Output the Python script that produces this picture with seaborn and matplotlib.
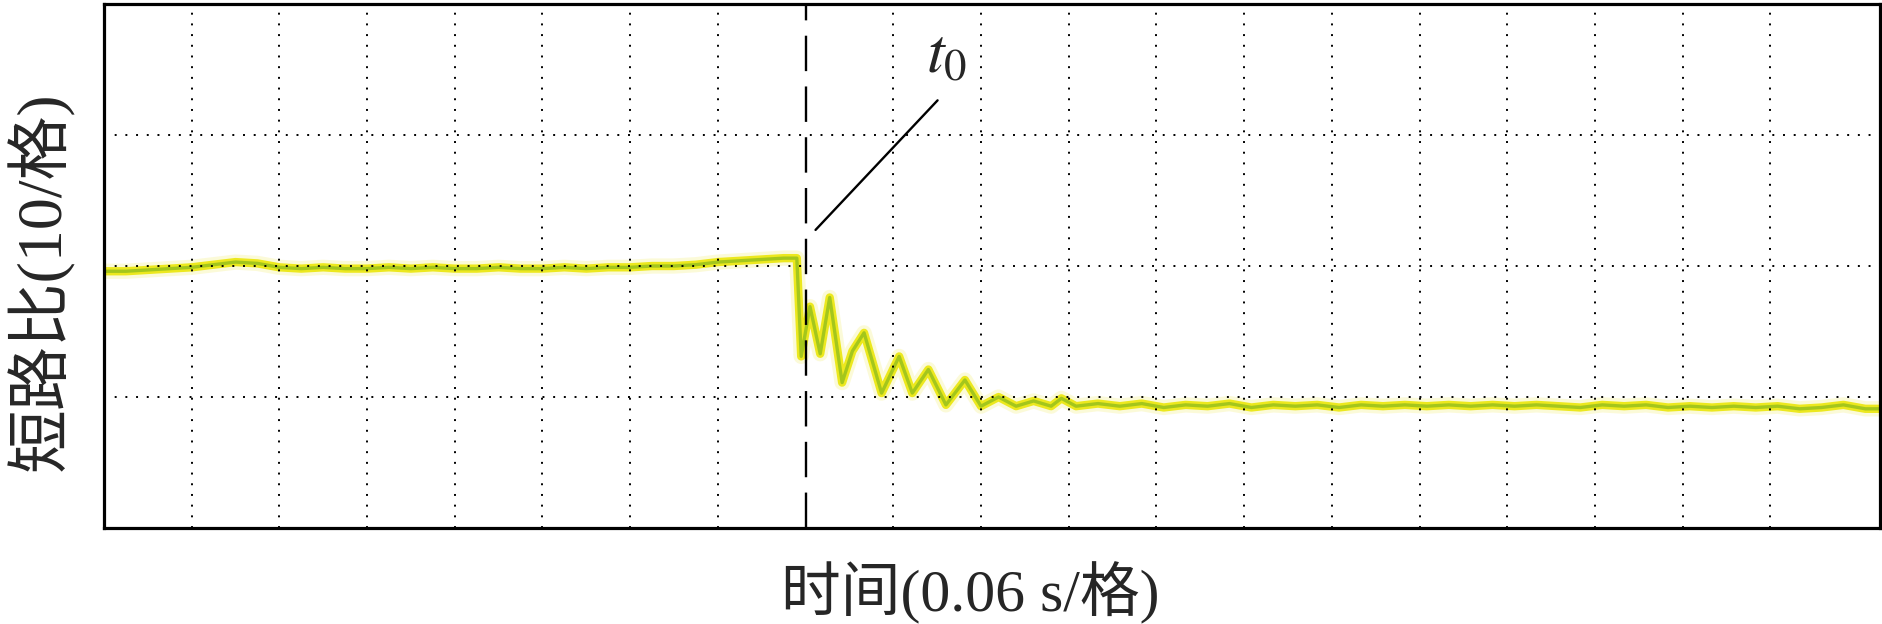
"""
Short-circuit ratio trace around a fault at t0 (oscilloscope style)
"""
import matplotlib
matplotlib.use('Agg')
import matplotlib.pyplot as plt
import seaborn as sns
import pandas as pd

# time in seconds (0.06 s per division)
time_s = [0.000, 0.015, 0.030, 0.045, 0.060, 0.075, 0.090, 0.105, 0.120, 0.135,
          0.150, 0.165, 0.180, 0.195, 0.210, 0.225, 0.240, 0.255, 0.270, 0.285,
          0.300, 0.315, 0.330, 0.345, 0.360, 0.375, 0.390, 0.405, 0.420, 0.435,
          0.450, 0.465, 0.474, 0.477, 0.483, 0.490, 0.4965, 0.505, 0.512, 0.520,
          0.532, 0.544, 0.553, 0.564, 0.576, 0.589, 0.600, 0.612, 0.624, 0.636,
          0.648, 0.655, 0.665, 0.680, 0.695, 0.710, 0.725, 0.740, 0.755, 0.770,
          0.785, 0.800, 0.815, 0.830, 0.845, 0.860, 0.875, 0.890, 0.905, 0.920,
          0.935, 0.950, 0.965, 0.980, 0.995, 1.010, 1.025, 1.040, 1.055, 1.070,
          1.085, 1.100, 1.115, 1.130, 1.145, 1.160, 1.175, 1.190, 1.205, 1.215]
scr = [19.6, 19.6, 19.7, 19.8, 19.9, 20.1, 20.3, 20.2, 19.9, 19.8,
       19.9, 19.8, 19.8, 19.9, 19.8, 19.9, 19.8, 19.8, 19.9, 19.8,
       19.8, 19.9, 19.8, 19.9, 19.9, 20.0, 20.0, 20.1, 20.3, 20.4,
       20.5, 20.6, 20.6, 13.1, 16.9, 13.3, 17.6, 11.1, 13.5, 14.9,
       10.3, 13.1, 10.3, 12.1, 9.4, 11.3, 9.3, 10.0, 9.3, 9.7,
       9.3, 9.9, 9.3, 9.5, 9.3, 9.5, 9.2, 9.4, 9.3, 9.5,
       9.2, 9.4, 9.3, 9.4, 9.2, 9.4, 9.3, 9.4, 9.3, 9.4,
       9.3, 9.4, 9.3, 9.4, 9.3, 9.2, 9.4, 9.3, 9.4, 9.2,
       9.3, 9.2, 9.3, 9.2, 9.3, 9.1, 9.2, 9.4, 9.1, 9.1]

T0 = 0.48          # fault instant
DIV_T = 0.06       # s per division
DIV_Y = 10         # SCR per division
X_MAX = 1.215
Y_MAX = 40

df = pd.DataFrame({'t': time_s, 'scr': scr})

sns.set_style('white')
plt.rcParams['font.family'] = ['Liberation Serif', 'Noto Sans CJK SC']
plt.rcParams['mathtext.fontset'] = 'stix'

fig = plt.figure(figsize=(18.83, 6.24), dpi=100)
ax = fig.add_axes([0.0552, 0.1538, 0.9432, 0.8398])

# trace: faint halo, yellow band, green core
sns.lineplot(data=df, x='t', y='scr', ax=ax, color='#f6f290', lw=11, alpha=0.35)
sns.lineplot(data=df, x='t', y='scr', ax=ax, color='#ece81e', lw=6)
sns.lineplot(data=df, x='t', y='scr', ax=ax, color='#a4c61c', lw=2.4)

ax.set_xlim(0, X_MAX)
ax.set_ylim(0, Y_MAX)

grid_kw = dict(color='black', lw=1.4, ls=(0, (1, 4.5)), zorder=3)
k = 1
while k * DIV_T < X_MAX - 0.05:
    if abs(k * DIV_T - T0) > 1e-6:
        ax.axvline(k * DIV_T, **grid_kw)
    k += 1
for j in range(1, Y_MAX // DIV_Y):
    ax.axhline(j * DIV_Y, **grid_kw)

ax.axvline(T0, color='black', lw=1.7, ls=(0, (15, 6.5)), zorder=4)

ax.annotate('', xy=(0.4855, 22.6), xytext=(0.5716, 32.8),
            arrowprops=dict(arrowstyle='-', color='black', lw=1.7))
ax.text(0.5627, 34.8, r'$t_0$', fontsize=46, ha='left', va='baseline')

ax.set_xticks([])
ax.set_yticks([])
for sp in ax.spines.values():
    sp.set_linewidth(2.3)
    sp.set_color('black')

ax.set_xlabel('时间(0.06 s/格)', fontsize=43)
ax.set_ylabel('短路比(10/格)', fontsize=46)
ax.xaxis.set_label_coords(0.4876, -0.064)
ax.yaxis.set_label_coords(-0.017, 0.47)

fig.savefig('out.png', dpi=100)
plt.close(fig)
